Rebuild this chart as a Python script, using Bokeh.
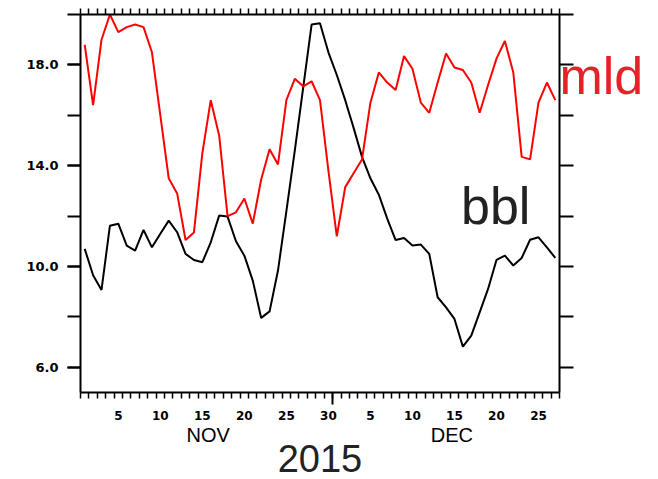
from bokeh.plotting import figure
from bokeh.models import LinearAxis, FixedTicker, PrintfTickFormatter, Range1d, Label
from bokeh.embed import file_html
from bokeh.resources import INLINE

# ---- data (day index: 1 = 1 Nov 2015, 31 = 1 Dec 2015) ----
days = list(range(1, 58))
mld = [18.8, 16.4, 19.0, 20.0, 19.3, 19.5, 19.6, 19.5, 18.5, 16.0,
       13.5, 12.9, 11.05, 11.35, 14.5, 16.6, 15.2, 12.0, 12.15, 12.7,
       11.7, 13.45, 14.65, 14.05, 16.6, 17.45, 17.15, 17.35, 16.6, 13.8,
       11.2, 13.15, 13.7, 14.25, 16.5, 17.7, 17.3, 17.0, 18.35, 17.85,
       16.5, 16.1, 17.3, 18.45, 17.9, 17.8, 17.3, 16.1, 17.2, 18.25,
       18.95, 17.7, 14.35, 14.25, 16.5, 17.3, 16.6]
bbl = [10.7, 9.65, 9.07, 11.62, 11.7, 10.83, 10.63, 11.45, 10.76, 11.3,
       11.82, 11.36, 10.5, 10.26, 10.17, 10.96, 12.02, 11.98, 11.0, 10.43,
       9.44, 7.96, 8.22, 9.84, 12.2, 14.6, 17.1, 19.6, 19.65, 18.5,
       17.6, 16.6, 15.5, 14.35, 13.5, 12.85, 11.9, 11.05, 11.13, 10.83,
       10.87, 10.5, 8.78, 8.38, 7.92, 6.82, 7.26, 8.18, 9.11, 10.26,
       10.43, 10.04, 10.34, 11.06, 11.16, 10.76, 10.34]

x_label_pos = [5, 10, 15, 20, 25, 30, 35, 40, 45, 50, 55]
x_label_text = ["5", "10", "15", "20", "25", "30", "5", "10", "15", "20", "25"]
day_bounds = [d - 0.5 for d in days] + [57.5]
month_break = [30.5]
y_label_ticks = [6, 10, 14, 18]
y_minor_ticks = [6, 8, 10, 12, 14, 16, 18, 20]
month_names = ["NOV", "DEC"]
month_pos = [15.7, 44.7]
year_text = "2015"
series_names = ["mld", "bbl"]
mld_label_y = 17.57
bbl_label_xy = (45.78, 12.42)

p = figure(width=658, height=479,
           x_range=Range1d(0.5, 57.5), y_range=Range1d(5, 20),
           x_axis_location=None, y_axis_location=None,
           output_backend="svg", toolbar_location=None,
           min_border_left=80, min_border_right=99,
           min_border_top=14, min_border_bottom=87)
p.outline_line_color = None
p.background_fill_color = "white"
p.border_fill_color = "white"
p.grid.grid_line_color = None
p.grid.visible = False

# left axis
yl = LinearAxis(ticker=FixedTicker(ticks=y_label_ticks, minor_ticks=y_minor_ticks),
                formatter=PrintfTickFormatter(format="%.1f"),
                major_tick_out=13, major_tick_in=0, minor_tick_out=13, minor_tick_in=0,
                axis_line_width=2, major_tick_line_width=2, minor_tick_line_width=2,
                major_label_standoff=9, major_label_text_font="DejaVu Sans",
                major_label_text_font_style="bold", major_label_text_font_size="13px",
                major_label_text_color="black")
p.add_layout(yl, "left")

# right axis: ticks + series name "mld"
yr = LinearAxis(ticker=FixedTicker(ticks=[mld_label_y], minor_ticks=y_minor_ticks),
                major_label_overrides={mld_label_y: series_names[0]},
                major_tick_out=0, major_tick_in=0, major_tick_line_color=None,
                minor_tick_out=14, minor_tick_in=0,
                axis_line_width=2, minor_tick_line_width=2,
                major_label_standoff=-14, major_label_text_font="Liberation Sans",
                major_label_text_font_size="52px", major_label_text_color="#e52228")
p.add_layout(yr, "right")

# top axis (daily ticks)
xt = LinearAxis(ticker=FixedTicker(ticks=[], minor_ticks=day_bounds),
                major_label_text_font_size="0px", major_label_standoff=0,
                major_tick_out=0, major_tick_in=0, minor_tick_out=6, minor_tick_in=0,
                axis_line_width=2, minor_tick_line_width=1.5)
p.add_layout(xt, "above")

# bottom axis (daily ticks + month break)
xa = LinearAxis(ticker=FixedTicker(ticks=month_break, minor_ticks=day_bounds),
                major_label_overrides={30.5: ""},
                major_label_text_font_size="0px", major_label_standoff=0,
                major_tick_out=12, major_tick_in=0, minor_tick_out=6, minor_tick_in=0,
                axis_line_width=2, major_tick_line_width=2, minor_tick_line_width=1.5)
p.add_layout(xa, "below")

# bottom day labels
xb = LinearAxis(ticker=FixedTicker(ticks=x_label_pos, minor_ticks=[]),
                major_label_overrides={pos: t for pos, t in zip(x_label_pos, x_label_text)},
                axis_line_color=None, major_tick_line_color=None, minor_tick_line_color=None,
                major_tick_out=0, major_tick_in=0, minor_tick_out=0,
                major_label_standoff=6, major_label_text_font="DejaVu Sans",
                major_label_text_font_style="bold", major_label_text_font_size="12px",
                major_label_text_color="black")
p.add_layout(xb, "below")

# month names + year
xc = LinearAxis(ticker=FixedTicker(ticks=month_pos, minor_ticks=[]),
                major_label_overrides={pos: t for pos, t in zip(month_pos, month_names)},
                axis_line_color=None, major_tick_line_color=None, minor_tick_line_color=None,
                major_tick_out=0, major_tick_in=0, minor_tick_out=0,
                major_label_standoff=1, major_label_text_font="Liberation Sans",
                major_label_text_font_style="normal", major_label_text_font_size="20px",
                major_label_text_color="black",
                axis_label=year_text, axis_label_text_font="Liberation Sans",
                axis_label_text_font_style="normal", axis_label_text_font_size="38px",
                axis_label_text_color="#222222", axis_label_standoff=-4)
p.add_layout(xc, "below")

# series
p.line(days, bbl, line_color="black", line_width=2)
p.line(days, mld, line_color="red", line_width=2)

# series name inside the frame
p.add_layout(Label(x=bbl_label_xy[0], y=bbl_label_xy[1], text=series_names[1],
                   text_align="left", text_baseline="middle",
                   text_font="Liberation Sans", text_font_size="52px",
                   text_color="#222222"))

open("out.html", "w").write(file_html(p, INLINE))
